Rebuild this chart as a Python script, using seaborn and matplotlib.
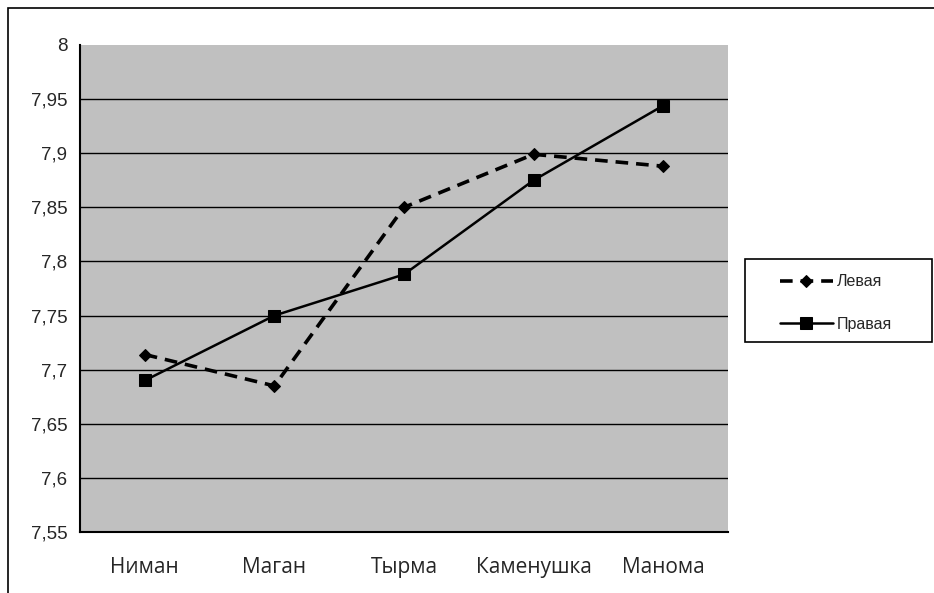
import matplotlib
matplotlib.use('Agg')
import matplotlib.pyplot as plt
import seaborn as sns
import pandas as pd
from matplotlib.patches import Rectangle
from matplotlib.ticker import FixedLocator, FixedFormatter

# данные
mesta = ['Ниман', 'Маган', 'Тырма', 'Каменушка', 'Манома']
levaya = [7.714, 7.685, 7.850, 7.899, 7.888]
pravaya = [7.690, 7.750, 7.788, 7.875, 7.944]
y_ticks = [7.55, 7.6, 7.65, 7.7, 7.75, 7.8, 7.85, 7.9, 7.95, 8.0]
y_labels = ['7,55', '7,6', '7,65', '7,7', '7,75', '7,8', '7,85', '7,9', '7,95', '8']

df = pd.DataFrame({'x': list(range(len(mesta))), 'Левая': levaya, 'Правая': pravaya})

sns.set_style('white')
plt.rcParams['font.family'] = ['Liberation Sans', 'DejaVu Sans']

fig = plt.figure(figsize=(9.34, 5.93), dpi=100)
W, H = 934, 593
ax = fig.add_axes([80 / W, (H - 532) / H, (728 - 80) / W, (532 - 45) / H])
ax.set_facecolor('#c0c0c0')

# рамка всей диаграммы
fig.patches.append(Rectangle((8 / W, -0.1), 1.2, (H - 8) / H + 0.1, transform=fig.transFigure,
                             fill=False, edgecolor='black', linewidth=1.2))
# рамка легенды
fig.patches.append(Rectangle((745 / W, (H - 342) / H), (932 - 745) / W, (342 - 259) / H,
                             transform=fig.transFigure, fill=False, edgecolor='black', linewidth=1.2))

for v in y_ticks[1:-1]:
    ax.axhline(v, color='black', linewidth=1.0, zorder=1)

sns.lineplot(data=df, x='x', y='Левая', ax=ax, color='black', linewidth=2.6,
             marker='D', markersize=6, markeredgecolor='black', label='Левая', zorder=3)
sns.lineplot(data=df, x='x', y='Правая', ax=ax, color='black', linewidth=1.8,
             marker='s', markersize=9, markeredgecolor='black', label='Правая', zorder=3)
ax.lines[-2].set_dashes([3.5, 2.2])

ax.set_xlim(-0.5, len(mesta) - 0.5)
ax.set_ylim(7.55, 8.0)
ax.yaxis.set_major_locator(FixedLocator(y_ticks))
ax.yaxis.set_major_formatter(FixedFormatter(y_labels))
ax.set_xticks(range(len(mesta)))
ax.set_xticklabels(mesta, fontsize=15, family=['Open Sans', 'DejaVu Sans'])
ax.set_xticks([i - 0.5 for i in range(len(mesta) + 1)], minor=True)
ax.tick_params(axis='x', which='major', length=0, pad=18)
ax.tick_params(axis='x', which='minor', length=5, width=1.5, direction='out', color='black')
ax.tick_params(axis='y', length=5, width=1.5, direction='out', color='black', labelsize=13.5, pad=4)
ax.set_xlabel('')
ax.set_ylabel('')

for s in ['top', 'right']:
    ax.spines[s].set_visible(False)
for s in ['left', 'bottom']:
    ax.spines[s].set_color('black')
    ax.spines[s].set_linewidth(1.5)

leg = ax.legend(loc='center left', bbox_to_anchor=(780 / W, (H - 303) / H),
                bbox_transform=fig.transFigure, frameon=False, fontsize=11.5,
                handlelength=3.3, labelspacing=1.7, borderpad=0, handletextpad=0.25,
                borderaxespad=0)

fig.savefig('out.png', dpi=100, facecolor='white')
